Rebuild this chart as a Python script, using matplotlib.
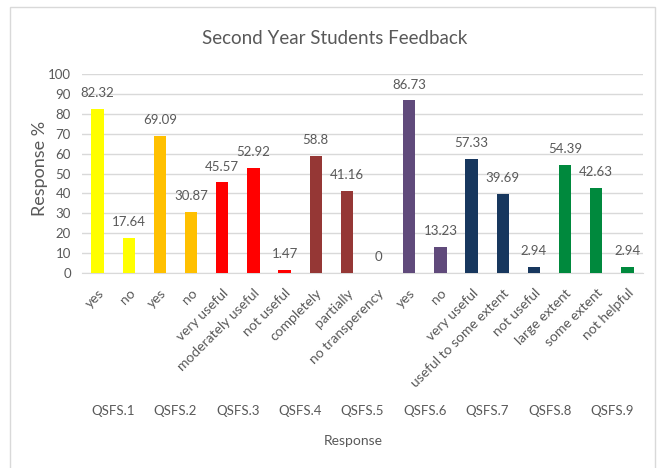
import matplotlib.pyplot as plt
import numpy as np
from matplotlib.patches import Rectangle

# data
categories = ['yes', 'no', 'yes', 'no', 'very useful', 'moderately useful', 'not useful',
              'completely', 'partially', 'no transperency', 'yes', 'no', 'very useful',
              'useful to some extent', 'not useful', 'large extent', 'some extent', 'not helpful']
values = [82.32, 17.64, 69.09, 30.87, 45.57, 52.92, 1.47, 58.8, 41.16, 0,
          86.73, 13.23, 57.33, 39.69, 2.94, 54.39, 42.63, 2.94]
bar_colors = ['#FFFF00', '#FFFF00', '#FFC000', '#FFC000', '#FF0000', '#FF0000', '#FF0000',
              '#953735', '#953735', '#953735', '#604A7B', '#604A7B', '#17375E', '#17375E',
              '#17375E', '#00893D', '#00893D', '#00893D']
groups = ['QSFS.1', 'QSFS.2', 'QSFS.3', 'QSFS.4', 'QSFS.5', 'QSFS.6', 'QSFS.7', 'QSFS.8', 'QSFS.9']

plt.rcParams['font.family'] = ['Lato', 'DejaVu Sans']
TXT = '#595959'

fig = plt.figure(figsize=(6.59, 4.68), dpi=100)
ax = fig.add_axes([82 / 659, 1 - 273 / 468, 561 / 659, 199 / 468])

x = np.arange(len(categories))
bars = ax.bar(x, values, width=0.4, color=bar_colors, zorder=3)
for b, v in zip(bars, values):
    ax.annotate(f'{v:g}', (b.get_x() + b.get_width() / 2, v), xytext=(0, 7),
                textcoords='offset points', ha='center', va='bottom', fontsize=9.5, color=TXT)

ax.set_xlim(-0.5, len(categories) - 0.5)
ax.set_ylim(0, 100)
ax.set_yticks(range(0, 101, 10))
ax.yaxis.grid(True, color='#D9D9D9', lw=1, zorder=0)
for s in ['top', 'right', 'left']:
    ax.spines[s].set_visible(False)
ax.spines['bottom'].set_color('#D9D9D9')
ax.tick_params(axis='both', length=0, colors=TXT, labelsize=9.5)
ax.tick_params(axis='y', pad=8)
ax.tick_params(axis='x', pad=10, labelsize=10)
ax.set_xticks(x)
ax.set_xticklabels(categories, rotation=45, ha='right', rotation_mode='anchor')

fig.text(40 / 659, 1 - 168 / 468, 'Response %', rotation=90, ha='center', va='center',
         fontsize=13, color=TXT)

# group labels under the category names
for gx, g in zip(np.linspace(0.055, 0.945, len(groups)), groups):
    ax.text(gx, 1 - (411 - 74) / 199, g, transform=ax.transAxes, ha='center', va='center',
            fontsize=9.5, color=TXT)
fig.text(353 / 659, 1 - 441 / 468, 'Response', ha='center', va='center', fontsize=10, color=TXT)
fig.text(335 / 659, 1 - 38 / 468, 'Second Year Students Feedback', ha='center', va='center',
         fontsize=13.5, color=TXT)

# chart border
fig.patches.append(Rectangle((10 / 659, -0.01), 645 / 659, 1 - 7 / 468 + 0.01,
                             transform=fig.transFigure, fill=False, ec='#D9D9D9', lw=1))

fig.savefig('out.png', dpi=100)
